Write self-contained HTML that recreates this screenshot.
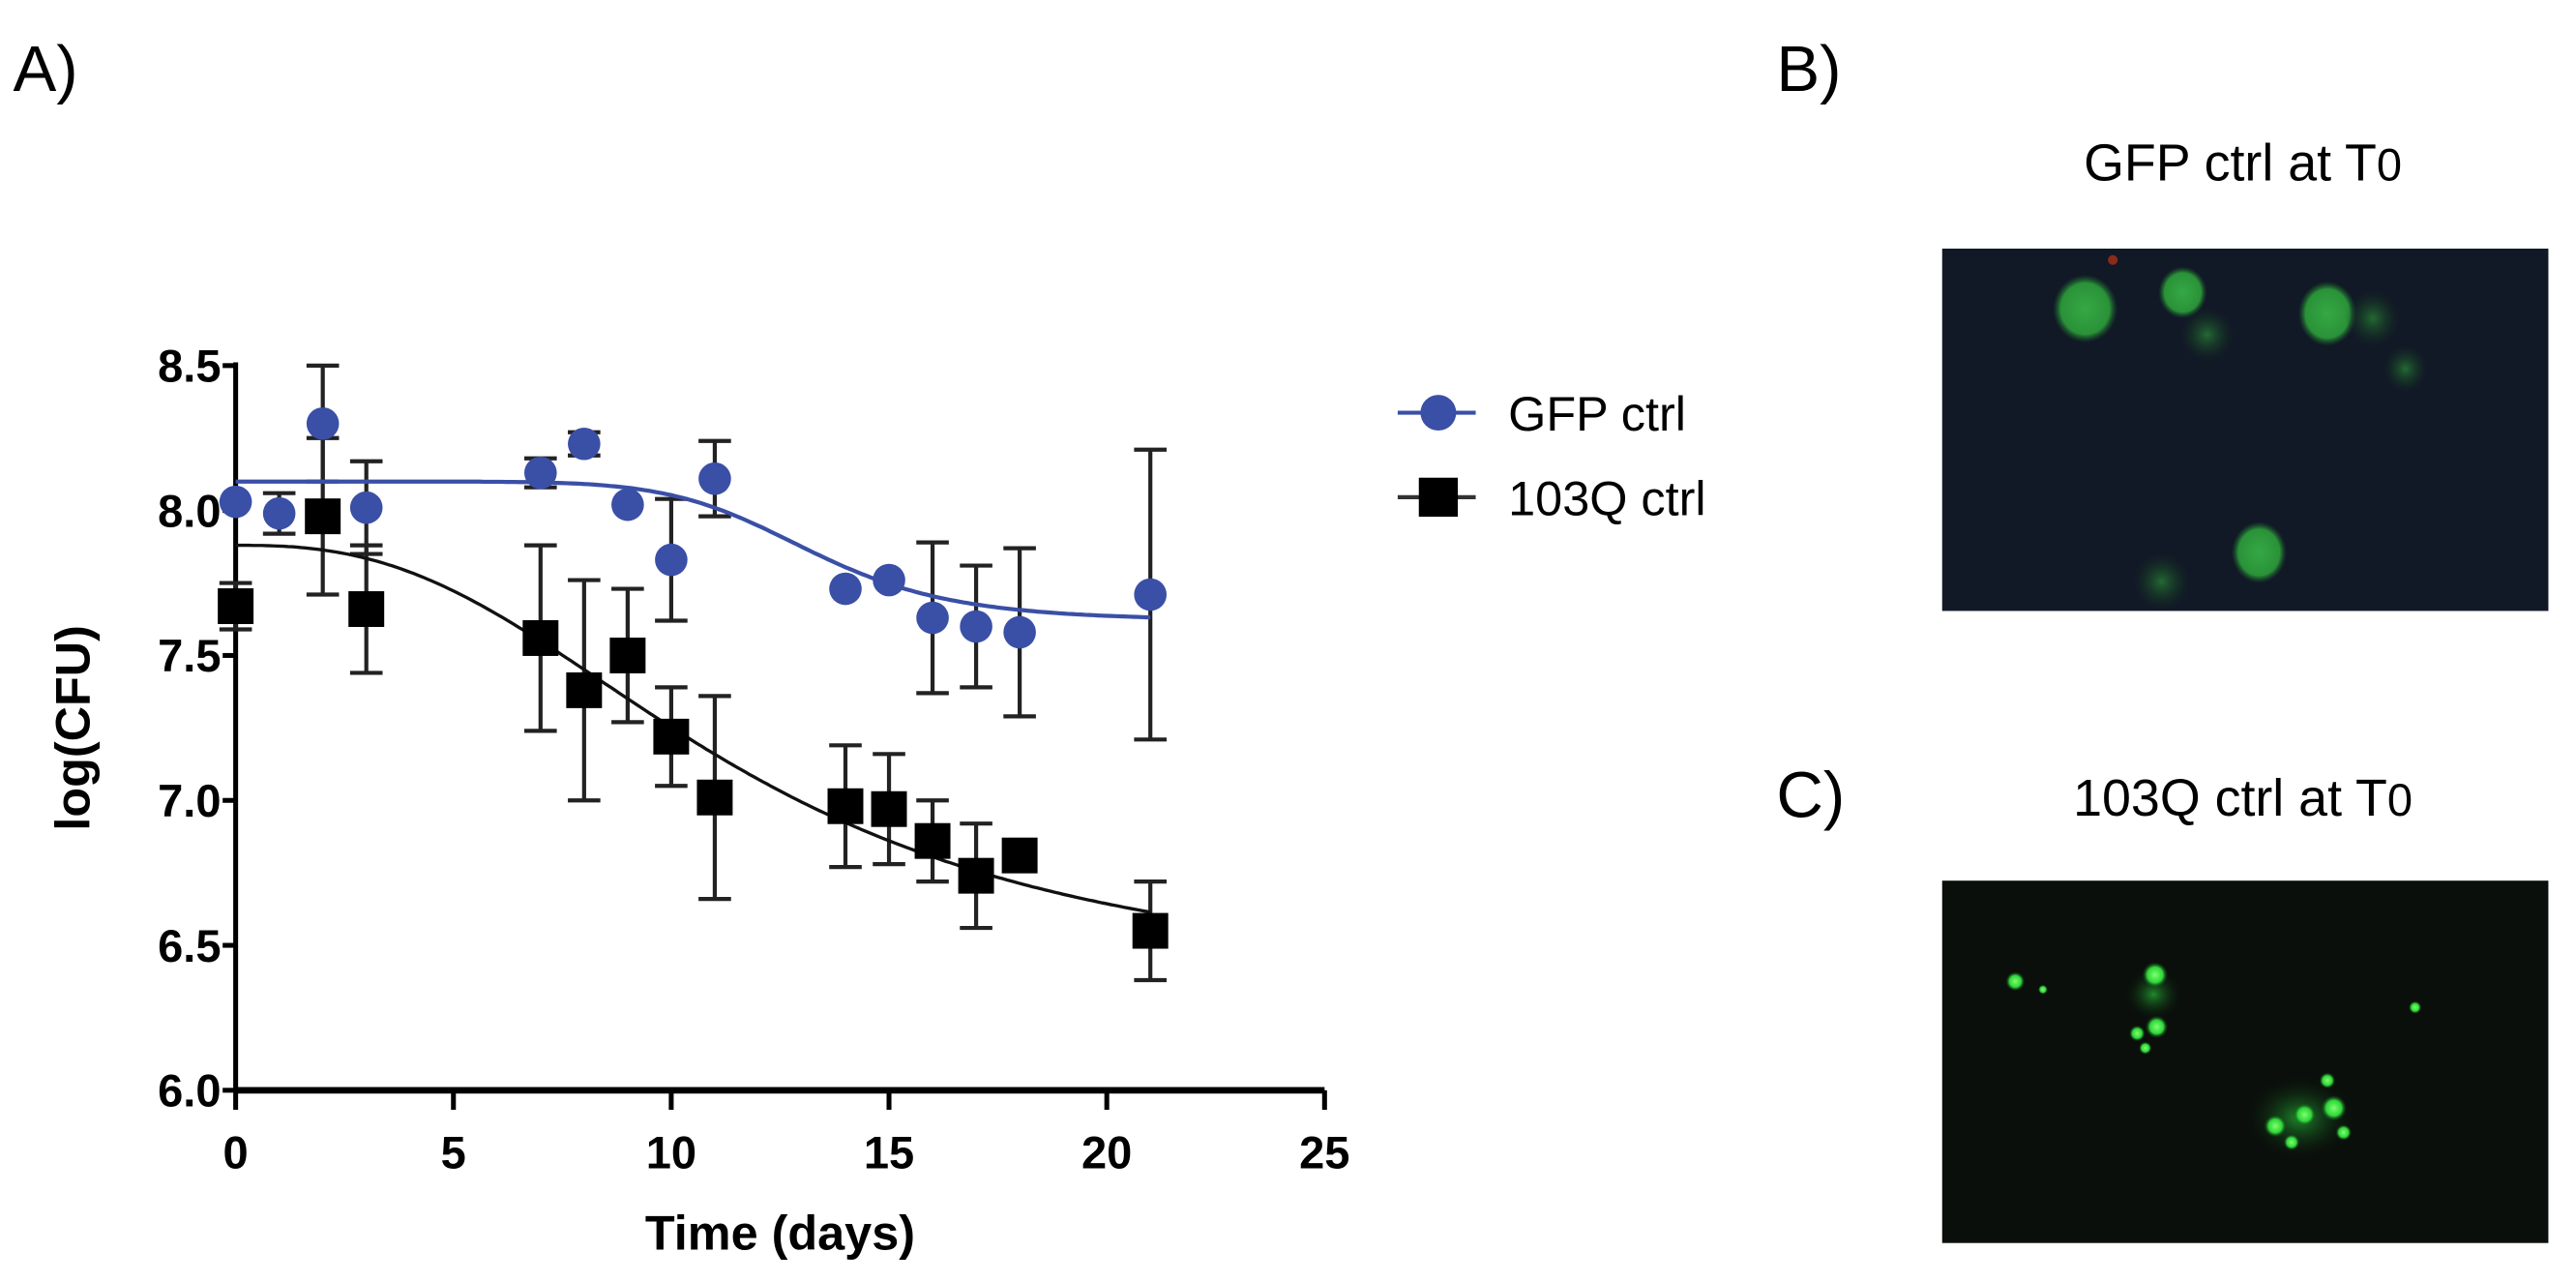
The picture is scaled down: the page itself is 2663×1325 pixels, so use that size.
<!DOCTYPE html>
<html><head><meta charset="utf-8"><style>
html,body{margin:0;padding:0;background:#fff;overflow:hidden;}
svg{display:block;}
text{font-family:"Liberation Sans",Arial,sans-serif;}
</style></head><body>
<svg id="fig" width="2663" height="1325" viewBox="0 0 1585 789" preserveAspectRatio="none" xmlns="http://www.w3.org/2000/svg">
<defs>
<radialGradient id="gcell" cx="50%" cy="50%" r="50%"><stop offset="0%" stop-color="#35a844"/><stop offset="75%" stop-color="#2a9238"/><stop offset="100%" stop-color="#1a5a2a" stop-opacity="0"/></radialGradient>
<radialGradient id="gdim" cx="50%" cy="50%" r="50%"><stop offset="0%" stop-color="#236a33"/><stop offset="100%" stop-color="#14301f" stop-opacity="0"/></radialGradient>
<radialGradient id="gspot" cx="50%" cy="50%" r="50%"><stop offset="0%" stop-color="#7dff6e"/><stop offset="60%" stop-color="#2fd63a"/><stop offset="100%" stop-color="#0f3a12" stop-opacity="0"/></radialGradient>
<radialGradient id="ghaze" cx="50%" cy="50%" r="50%"><stop offset="0%" stop-color="#1f8a2c"/><stop offset="100%" stop-color="#0c140d" stop-opacity="0"/></radialGradient>
</defs>
<text x="8" y="56" font-size="40">A)</text>
<text x="1093" y="56" font-size="40">B)</text>
<text x="1093" y="503" font-size="40">C)</text>
<g id="chart"></g>
<g id="legend">
  <g>
    <line x1="860" y1="254" x2="908" y2="254" stroke="#3a4fa6" stroke-width="2.5"/>
    <circle cx="885" cy="254" r="11" fill="#3a4fa6"/>
    <text x="928" y="265" font-size="30">GFP ctrl</text>
  </g>
  <g>
    <line x1="860" y1="306" x2="908" y2="306" stroke="#333" stroke-width="2.5"/>
    <rect x="873" y="294" width="24" height="24" fill="#000"/>
    <text x="928" y="317" font-size="30">103Q ctrl</text>
  </g>
</g>
<text x="1380" y="111" font-size="32" text-anchor="middle">GFP ctrl at T<tspan font-size="28">0</tspan></text>
<g>
  <rect x="1195" y="153" width="373" height="223" fill="#111826"/>
  <ellipse cx="1283" cy="190" rx="20" ry="21" fill="url(#gcell)"/>
  <ellipse cx="1343" cy="180" rx="15" ry="16" fill="url(#gcell)"/>
  <ellipse cx="1358" cy="206" rx="17" ry="17" fill="url(#gdim)"/>
  <ellipse cx="1432" cy="193" rx="18" ry="20" fill="url(#gcell)"/>
  <ellipse cx="1460" cy="196" rx="17" ry="18" fill="url(#gdim)"/>
  <ellipse cx="1480" cy="227" rx="14" ry="15" fill="url(#gdim)"/>
  <ellipse cx="1390" cy="340" rx="17" ry="19" fill="url(#gcell)"/>
  <ellipse cx="1330" cy="358" rx="18" ry="18" fill="url(#gdim)"/>
  <circle cx="1300" cy="160" r="3" fill="#8a2a1a"/>
</g>
<text x="1380" y="502" font-size="32" text-anchor="middle">103Q ctrl at T<tspan font-size="28">0</tspan></text>
<g>
  <rect x="1195" y="542" width="373" height="223" fill="#0a0f0b"/>
  <ellipse cx="1325" cy="612" rx="18" ry="16" fill="url(#ghaze)"/>
  <circle cx="1240" cy="604" r="6" fill="url(#gspot)"/>
  <circle cx="1257" cy="609" r="3" fill="url(#gspot)"/>
  <circle cx="1326" cy="600" r="8" fill="url(#gspot)"/>
  <circle cx="1327" cy="632" r="7" fill="url(#gspot)"/>
  <circle cx="1315" cy="636" r="5" fill="url(#gspot)"/>
  <circle cx="1320" cy="645" r="4" fill="url(#gspot)"/>
  <ellipse cx="1415" cy="688" rx="34" ry="26" fill="url(#ghaze)"/>
  <circle cx="1400" cy="693" r="7" fill="url(#gspot)"/>
  <circle cx="1418" cy="686" r="7" fill="url(#gspot)"/>
  <circle cx="1436" cy="682" r="8" fill="url(#gspot)"/>
  <circle cx="1432" cy="665" r="5" fill="url(#gspot)"/>
  <circle cx="1410" cy="703" r="5" fill="url(#gspot)"/>
  <circle cx="1442" cy="697" r="5" fill="url(#gspot)"/>
  <circle cx="1486" cy="620" r="4" fill="url(#gspot)"/>
</g>
</svg>
<script>
const xTicks = [0, 5, 10, 15, 20, 25];
const yTicks = [6.0, 6.5, 7.0, 7.5, 8.0, 8.5];
const days = [0, 1, 2, 3, 7, 8, 9, 10, 11, 14, 15, 16, 17, 18, 21];
const gfpMean = [8.03, 7.99, 8.30, 8.01, 8.13, 8.23, 8.02, 7.83, 8.11, 7.73, 7.76, 7.63, 7.60, 7.58, 7.71];
const gfpErr = [0.0, 0.07, 0.2, 0.16, 0.05, 0.04, 0.0, 0.21, 0.13, 0.0, 0.0, 0.26, 0.21, 0.29, 0.5];
const qDays = [0, 2, 3, 7, 8, 9, 10, 11, 14, 15, 16, 17, 18, 21];
const qMean = [7.67, 7.98, 7.66, 7.56, 7.38, 7.50, 7.22, 7.01, 6.98, 6.97, 6.86, 6.74, 6.81, 6.55];
const qErr = [0.08, 0.27, 0.22, 0.32, 0.38, 0.23, 0.17, 0.35, 0.21, 0.19, 0.14, 0.18, 0.0, 0.17];
const gfpFit = {top: 8.10, bottom: 7.62, mid: 13.2, h: 8};
const qFit = {top: 7.88, bottom: 6.35, mid: 11.5, h: 2.6};

const NS = 'http://www.w3.org/2000/svg';
const X0 = 145, X1 = 815, Y0 = 671, Y1 = 225;
function sx(v){ return X0 + (v - 0) / 25 * (X1 - X0); }
function sy(v){ return Y0 - (v - 6) / 2.5 * (Y0 - Y1); }
const chart = document.getElementById('chart');
function mk(tag, attrs, parent){ const e = document.createElementNS(NS, tag); for (const k in attrs) e.setAttribute(k, attrs[k]); (parent || chart).appendChild(e); return e; }

const yAxis = mk('line', {x1: X0, y1: Y1 - 2, x2: X0, y2: Y0, stroke: '#000', 'stroke-width': 3});


const xAxis = mk('line', {x1: X0 - 1, y1: Y0, x2: X1, y2: Y0, stroke: '#000', 'stroke-width': 4});


yTicks.forEach(v => {
  mk('line', {x1: X0 - 8, y1: sy(v), x2: X0, y2: sy(v), stroke: '#000', 'stroke-width': 3});
  const t = mk('text', {x: X0 - 9, y: sy(v) + 10, 'font-size': 28, 'font-weight': 'bold', 'text-anchor': 'end'});
  t.textContent = v.toFixed(1);
  
  
});
xTicks.forEach(v => {
  mk('line', {x1: sx(v), y1: Y0, x2: sx(v), y2: Y0 + 12, stroke: '#000', 'stroke-width': 3});
  const t = mk('text', {x: sx(v), y: Y0 + 48, 'font-size': 28, 'font-weight': 'bold', 'text-anchor': 'middle'});
  t.textContent = String(v);
  
  
});
const xt = mk('text', {x: 480, y: 769, 'font-size': 30, 'font-weight': 'bold', 'text-anchor': 'middle'});
xt.textContent = 'Time (days)';


const yt = mk('text', {x: 0, y: 0, 'font-size': 30, 'font-weight': 'bold', 'text-anchor': 'middle', transform: 'translate(55,448) rotate(-90)'});
yt.textContent = 'log(CFU)';



function fitPath(p){
  let d = '';
  for (let i = 0; i <= 210; i++) {
    const x = i / 10;
    const y = p.bottom + (p.top - p.bottom) / (1 + Math.pow(x / p.mid, p.h));
    d += (i ? 'L' : 'M') + sx(x).toFixed(1) + ',' + sy(y).toFixed(1);
  }
  return d;
}
function errBar(x, m, e, name){
  if (e <= 0) return;
  const g = mk('g', {stroke: '#222', 'stroke-width': 2.5});
  
  
  mk('line', {x1: sx(x), y1: sy(m + e), x2: sx(x), y2: sy(m - e)}, g);
  mk('line', {x1: sx(x) - 10, y1: sy(m + e), x2: sx(x) + 10, y2: sy(m + e)}, g);
  mk('line', {x1: sx(x) - 10, y1: sy(m - e), x2: sx(x) + 10, y2: sy(m - e)}, g);
}
qDays.forEach((d, i) => errBar(d, qMean[i], qErr[i], 'error-bar-103q'));
days.forEach((d, i) => errBar(d, gfpMean[i], gfpErr[i], 'error-bar-gfp'));
const qCurve = mk('path', {d: fitPath(qFit), fill: 'none', stroke: '#111', 'stroke-width': 2});


const gCurve = mk('path', {d: fitPath(gfpFit), fill: 'none', stroke: '#3a4fa6', 'stroke-width': 2.5});


qDays.forEach((d, i) => {
  const r = mk('rect', {x: sx(d) - 11, y: sy(qMean[i]) - 11, width: 22, height: 22, fill: '#000'});
  
  
});
days.forEach((d, i) => {
  const c = mk('circle', {cx: sx(d), cy: sy(gfpMean[i]), r: 10, fill: '#3a4fa6'});
  
  
});
</script>
</body></html>
